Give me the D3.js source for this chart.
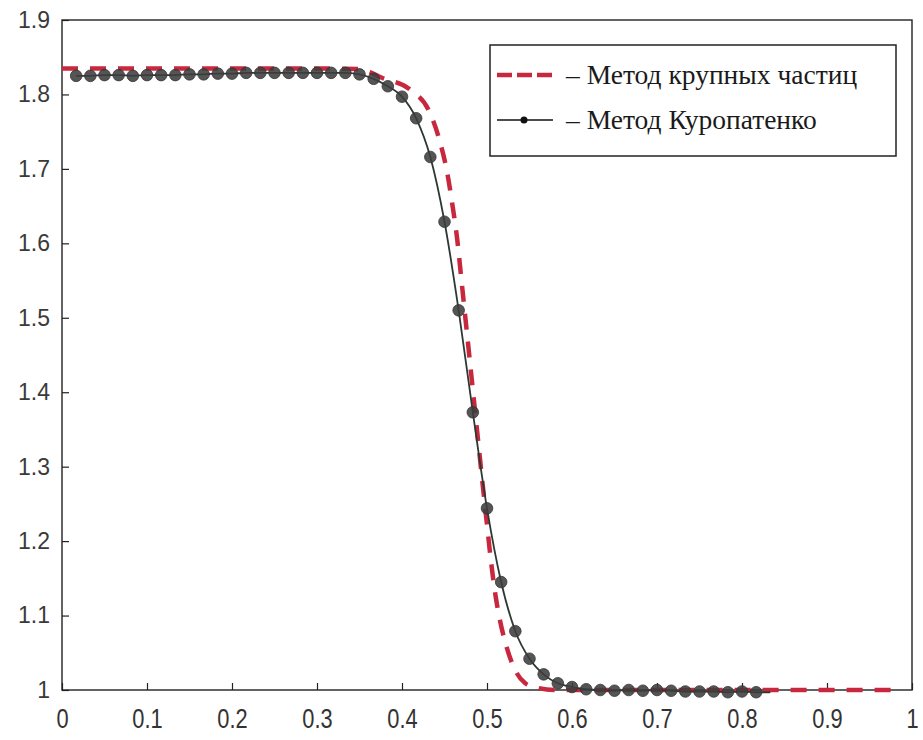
<!DOCTYPE html>
<html>
<head>
<meta charset="utf-8">
<script src="https://cdn.jsdelivr.net/npm/d3@7"></script>
<style>
  html, body { margin: 0; padding: 0; background: #fff; }
  svg { display: block; }
</style>
</head>
<body>
<div id="chart"></div>
<script>
// Large-particle method (dashed curve): x positions and values
const bigParticleX = [0, 0.30, 0.35, 0.362, 0.375, 0.41, 0.433, 0.445, 0.453, 0.459, 0.465, 0.470, 0.475, 0.480, 0.485, 0.490, 0.495, 0.500, 0.505, 0.510, 0.515, 0.521, 0.533, 0.545, 0.559, 0.58, 0.98];
const bigParticleY = [1.835, 1.835, 1.834, 1.830, 1.823, 1.806, 1.775, 1.735, 1.696, 1.654, 1.605, 1.550, 1.495, 1.440, 1.385, 1.330, 1.275, 1.222, 1.170, 1.127, 1.095, 1.066, 1.027, 1.009, 1.003, 1.000, 1.000];

// Kuropatenko method (line with markers): node positions i/60
const kuroX = d3.range(1, 51).map(i => i / 60);
const kuroY = [
  1.825, 1.825, 1.826, 1.826, 1.825, 1.826, 1.826, 1.826, 1.827, 1.827,
  1.828, 1.828, 1.829, 1.829, 1.829, 1.829, 1.829, 1.829, 1.829, 1.829,
  1.827, 1.821, 1.811, 1.797, 1.768, 1.716, 1.629, 1.510, 1.373, 1.244,
  1.145, 1.079, 1.042, 1.021, 1.009, 1.004, 1.001, 1.000, 0.999, 1.000,
  0.999, 1.000, 0.999, 0.998, 0.998, 0.998, 0.997, 0.998, 0.997, 0.997
];

const xTicks = [0, 0.1, 0.2, 0.3, 0.4, 0.5, 0.6, 0.7, 0.8, 0.9, 1];
const yTicks = [1, 1.1, 1.2, 1.3, 1.4, 1.5, 1.6, 1.7, 1.8, 1.9];

const seriesNames = ["– Метод крупных частиц", "– Метод Куропатенко"];

const W = 923, H = 740;
const M = { left: 62, right: 912, top: 20, bottom: 690 };

const svg = d3.select("#chart").append("svg")
  .attr("width", W).attr("height", H);

const x = d3.scaleLinear().domain([0, 1]).range([M.left, M.right]);
const y = d3.scaleLinear().domain([1, 1.9]).range([M.bottom, M.top]);

const fmt = d => String(+d.toFixed(1));

// x axis: ticks inside, condensed labels
const gx = svg.append("g")
  .attr("transform", `translate(0,${M.bottom})`)
  .call(d3.axisBottom(x).tickValues(xTicks).tickFormat(fmt)
    .tickSizeInner(-7).tickSizeOuter(0).tickPadding(18));
gx.select(".domain").remove();
gx.selectAll(".tick line").attr("stroke", "#222").attr("stroke-width", 1.2);
gx.selectAll(".tick text")
  .attr("font-family", "'Liberation Sans', Arial, sans-serif")
  .attr("font-size", 28)
  .attr("fill", "#333")
  .attr("transform", "scale(0.78,1)");

// y axis
const gy = svg.append("g")
  .attr("transform", `translate(${M.left},0)`)
  .call(d3.axisLeft(y).tickValues(yTicks).tickFormat(fmt)
    .tickSizeInner(-7).tickSizeOuter(0).tickPadding(12));
gy.select(".domain").remove();
gy.selectAll(".tick line").attr("stroke", "#222").attr("stroke-width", 1.2);
gy.selectAll(".tick text")
  .attr("font-family", "'Liberation Sans', Arial, sans-serif")
  .attr("font-size", 23)
  .attr("fill", "#3a3a3a");

// plot frame
svg.append("rect")
  .attr("x", M.left).attr("y", M.top)
  .attr("width", M.right - M.left).attr("height", M.bottom - M.top)
  .attr("fill", "none").attr("stroke", "#222").attr("stroke-width", 1.4);

const red = "#c8283e";

// dashed curve
const bigData = bigParticleX.map((v, i) => [v, bigParticleY[i]]);
const lineGen = d3.line().x(d => x(d[0])).y(d => y(d[1])).curve(d3.curveMonotoneX);
svg.append("path")
  .datum(bigData)
  .attr("d", lineGen)
  .attr("fill", "none")
  .attr("stroke", red)
  .attr("stroke-width", 4.5)
  .attr("stroke-dasharray", "16,12");

// Kuropatenko line with markers
const kuroData = kuroX.map((v, i) => [v, kuroY[i]]);
svg.append("path")
  .datum(kuroData)
  .attr("d", lineGen)
  .attr("fill", "none")
  .attr("stroke", "#2e3833")
  .attr("stroke-width", 1.8);

svg.append("g").selectAll("circle")
  .data(kuroData.slice(0, 49))
  .join("circle")
  .attr("cx", d => x(d[0]))
  .attr("cy", d => y(d[1]))
  .attr("r", 5.8)
  .attr("fill", "#3d3d3d")
  .attr("fill-opacity", 0.88)
  .attr("stroke", "#333")
  .attr("stroke-width", 0.8);

// legend
const lg = svg.append("g");
lg.append("rect")
  .attr("x", 490).attr("y", 45).attr("width", 406).attr("height", 111)
  .attr("fill", "#fff").attr("stroke", "#222").attr("stroke-width", 1.5);

lg.append("line")
  .attr("x1", 497).attr("x2", 553).attr("y1", 75).attr("y2", 75)
  .attr("stroke", red).attr("stroke-width", 4.5)
  .attr("stroke-dasharray", "15,5");
lg.append("line")
  .attr("x1", 497).attr("x2", 553).attr("y1", 120).attr("y2", 120)
  .attr("stroke", "#111").attr("stroke-width", 1.6);
lg.append("circle")
  .attr("cx", 524).attr("cy", 120).attr("r", 3.5).attr("fill", "#111");

lg.selectAll("text.leg")
  .data(seriesNames)
  .join("text")
  .attr("class", "leg")
  .attr("x", 566)
  .attr("y", (d, i) => 84 + i * 45)
  .attr("font-family", "'Liberation Serif', 'Times New Roman', serif")
  .attr("font-size", 27.5)
  .attr("fill", "#1a1a1a")
  .text(d => d);
</script>
</body>
</html>
